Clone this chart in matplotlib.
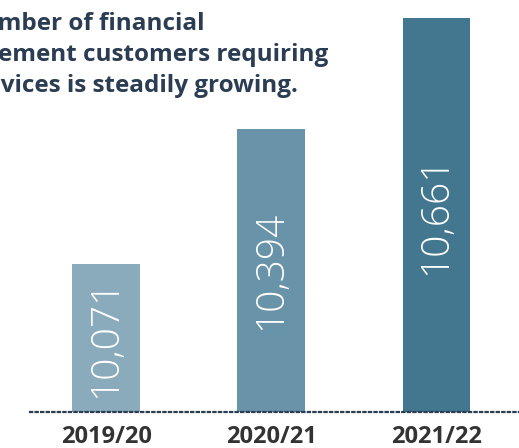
import matplotlib.pyplot as plt

periodos = ['2019/20', '2020/21', '2021/22']
clientes = [10071, 10394, 10661]
etiquetas = ['10,071', '10,394', '10,661']
colores = ['#8aabbb', '#6993a8', '#43768f']
titulo = ['The number of financial',
          'management customers requiring',
          'our services is steadily growing.']

fig = plt.figure(figsize=(5.19, 4.48), dpi=100)
ax = fig.add_axes([30 / 519, 36 / 448, 489 / 519, 412 / 448])

x = range(len(periodos))
base = 9715
ax.bar(x, [v - base for v in clientes], bottom=base, width=0.41, color=colores)
ax.set_xlim(-0.46, 2.50)
ax.set_ylim(base, 10705)

for i, v in enumerate(clientes):
    ax.text(i, (base + v) / 2, etiquetas[i], rotation=90, ha='center', va='center',
            color='white', fontsize=28, family='Open Sans', fontweight='light')

for s in ['top', 'right', 'left']:
    ax.spines[s].set_visible(False)
ax.spines['bottom'].set_linestyle((0, (1, 1.5)))
ax.spines['bottom'].set_linewidth(1.6)
ax.spines['bottom'].set_color('#2b3d52')
ax.set_yticks([])
ax.set_xticks(list(x))
ax.set_xticklabels(periodos, fontsize=17, fontweight='bold', family='Open Sans', color='#333333')
ax.tick_params(axis='x', length=0, pad=9)

# titulo cortado por la izquierda, como en el original
fig.canvas.draw()
r = fig.canvas.get_renderer()
t = fig.text(0, 0, 'The nu', fontsize=17.5, fontweight='bold', family='Open Sans')
ancho = t.get_window_extent(renderer=r).width
t.remove()
fig.text(-(ancho + 2) / 519, 1 - 12 / 448, '\n'.join(titulo), ha='left', va='top', fontsize=17.5,
         fontweight='bold', family='Open Sans', color='#2b3d52', linespacing=1.4)

plt.savefig('out.png', dpi=100)
